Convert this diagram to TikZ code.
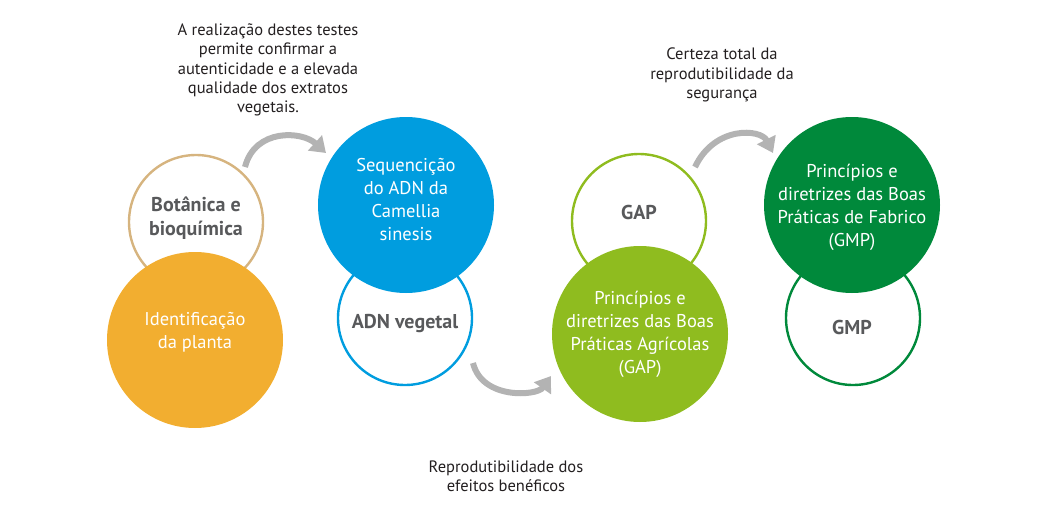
\documentclass[tikz,border=0pt]{standalone}
\usepackage{fontspec}
\setmainfont{PT Sans}
\usetikzlibrary{arrows.meta}
\definecolor{tanc}{HTML}{D6B47F}
\definecolor{orangec}{HTML}{F2AE30}
\definecolor{bluec}{HTML}{009DDF}
\definecolor{lgreen}{HTML}{8FBC1F}
\definecolor{dgreen}{HTML}{00893B}
\definecolor{arrowc}{HTML}{B3B3B3}
\definecolor{boldtxt}{HTML}{58595B}
\definecolor{captxt}{HTML}{231F20}
\tikzset{
  ring/.style={circle, draw=#1, line width=2.4pt, fill=white, minimum size=134pt, inner sep=0pt},
  disc/.style={circle, fill=#1, minimum size=176pt, inner sep=0pt},
  boldlabel/.style={align=center, font=\fontsize{20}{24}\selectfont\bfseries, text=boldtxt},
  whitelabel/.style={align=center, font=\fontsize{18.5}{23}\selectfont, text=white},
  caption/.style={align=center, font=\fontsize{16.5}{19.3}\selectfont, text=captxt},
  flow/.style={draw=arrowc, line width=6pt, -{Triangle[width=20pt,length=15pt]}}
}
\begin{document}
\begin{tikzpicture}[x=1pt,y=-1pt]
\useasboundingbox (0,0) rectangle (1060,519);
% outline circles
\node[ring=tanc] (bot) at (196,222) {};
\node[ring=bluec] (adn) at (405,318) {};
\node[ring=lgreen] (gap) at (639,221) {};
\node[ring=dgreen] (gmp) at (853,318) {};
\node[boldlabel] (botl) at (196,218) {Botânica e\\bioquímica};
% filled circles
\node[disc=orangec] (ident) at (195,340) {};
\node[disc=bluec] (seq) at (406,205) {};
\node[disc=lgreen] (pgap) at (640,334) {};
\node[disc=dgreen] (pgmp) at (852,205) {};
% labels
\node[boldlabel] (adnl) at (405,324) {ADN vegetal};
\node[boldlabel] (gapl) at (639,212) {GAP};
\node[boldlabel] (gmpl) at (852,327) {GMP};
\node[whitelabel] (identl) at (195,332) {Identificação\\da planta};
\node[whitelabel] (seql) at (406,200) {Sequencição\\do ADN da\\Camellia\\sinesis};
\node[whitelabel] (pgapl) at (640,334) {Princípios e\\diretrizes das Boas\\Práticas Agrícolas\\(GAP)};
\node[whitelabel] (pgmpl) at (852,207) {Princípios e\\diretrizes das Boas\\Práticas de Fabrico\\(GMP)};
% captions
\node[caption] (c1) at (268,70) {A realização destes testes\\permite confirmar a\\autenticidade e a elevada\\qualidade dos extratos\\vegetais.};
\node[caption] (c2) at (722,75) {Certeza total da\\reprodutibilidade da\\segurança};
\node[caption] (c3) at (506,476) {Reprodutibilidade dos\\efeitos benéficos};
% arrows
\coordinate (a1s) at (245,167); \coordinate (a1e) at (326,153);
\coordinate (a2s) at (473,363); \coordinate (a2e) at (551,376);
\coordinate (a3s) at (695,167); \coordinate (a3e) at (773,153);
\draw[flow] (a1s) .. controls (255,128) and (302,131) .. (a1e);
\draw[flow] (a2s) .. controls (482,400) and (537,396) .. (a2e);
\draw[flow] (a3s) .. controls (715,125) and (761,129) .. (a3e);
\end{tikzpicture}
\end{document}
